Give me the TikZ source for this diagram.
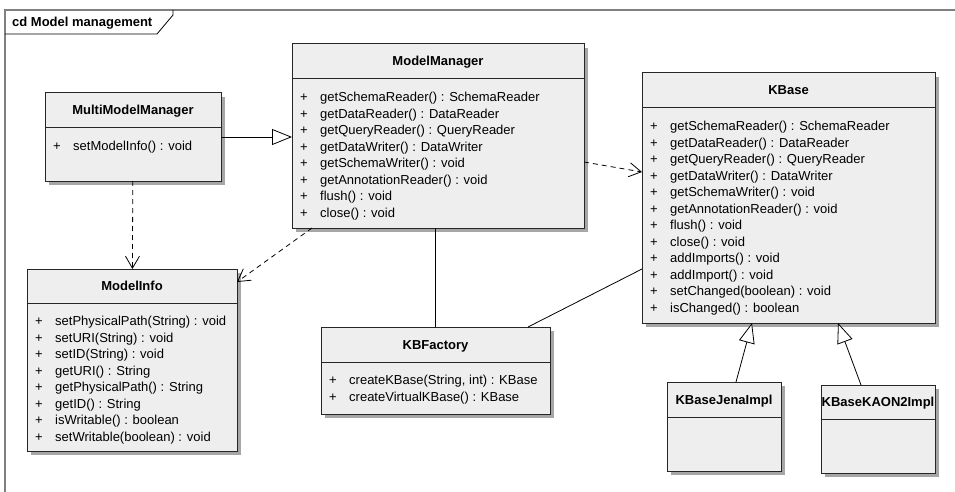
\documentclass[tikz,border=0pt]{standalone}
\usepackage{fontspec}
\setmainfont{Liberation Sans}
\usetikzlibrary{arrows.meta,positioning,shadows,calc}
\definecolor{clsfill}{HTML}{EEEEEE}
\definecolor{framecol}{HTML}{808080}
\newcommand\op[1]{\makebox[20pt][l]{+}#1\strut}

\begin{document}
\begin{tikzpicture}[x=1pt, y=-1pt,
        cls/.style={draw=black!85, fill=clsfill, line width=1pt, anchor=north west,
          inner sep=0pt, outer sep=0pt,
          drop shadow={shadow xshift=4pt, shadow yshift=-4pt, fill=black!35, opacity=1}},
        clsname/.style={anchor=base, font=\fontsize{13}{16}\selectfont\bfseries},
        ops/.style={anchor=north west, inner sep=0pt, align=left,
          font=\fontsize{13}{16.5}\selectfont},
        sep/.style={draw=black!85, line width=1pt},
        gen/.style={line width=0.8pt, -{Triangle[fill=white, length=20pt, width=16pt]}},
        dep/.style={line width=0.8pt, dash pattern=on 5pt off 4pt,
          -{Straight Barb[length=12pt, width=14pt]}},
        assoc/.style={line width=0.8pt}
        ]
        \useasboundingbox (0,0) rectangle (955,492);
        % frame
        \draw[framecol, line width=1.2pt] (5,492) -- (5,10) -- (955,10);
        \draw[line width=0.8pt] (5,34) -- (157,34) -- (173,15) -- (173,10);
        \node[anchor=base west, inner sep=0pt, font=\fontsize{13}{15}\selectfont\bfseries] (title)
          at (12,26.5) {cd Model management};

        % classes
        \node[cls, minimum width=176pt, minimum height=88pt] (mmm) at (45,93) {};
        \draw[sep] ([yshift=-35pt]mmm.north west) -- ([yshift=-35pt]mmm.north east);
        \node[clsname] (mmm-name) at ([yshift=-22pt]mmm.north) {MultiModelManager};
        \node[ops] (mmm-ops) at ([xshift=8pt, yshift=-46pt]mmm.north west) {%
          \op{setModelInfo() : void}};

        \node[cls, minimum width=292pt, minimum height=184pt] (mm) at (292,44) {};
        \draw[sep] ([yshift=-35pt]mm.north west) -- ([yshift=-35pt]mm.north east);
        \node[clsname] (mm-name) at ([yshift=-22pt]mm.north) {ModelManager};
        \node[ops] (mm-ops) at ([xshift=8pt, yshift=-46pt]mm.north west) {%
          \op{getSchemaReader() : SchemaReader}\\
          \op{getDataReader() : DataReader}\\
          \op{getQueryReader() : QueryReader}\\
          \op{getDataWriter() : DataWriter}\\
          \op{getSchemaWriter() : void}\\
          \op{getAnnotationReader() : void}\\
          \op{flush() : void}\\
          \op{close() : void}};

        \node[cls, minimum width=293pt, minimum height=250pt] (kbase) at (642,73) {};
        \draw[sep] ([yshift=-35pt]kbase.north west) -- ([yshift=-35pt]kbase.north east);
        \node[clsname] (kbase-name) at ([yshift=-22pt]kbase.north) {KBase};
        \node[ops] (kbase-ops) at ([xshift=8pt, yshift=-46pt]kbase.north west) {%
          \op{getSchemaReader() : SchemaReader}\\
          \op{getDataReader() : DataReader}\\
          \op{getQueryReader() : QueryReader}\\
          \op{getDataWriter() : DataWriter}\\
          \op{getSchemaWriter() : void}\\
          \op{getAnnotationReader() : void}\\
          \op{flush() : void}\\
          \op{close() : void}\\
          \op{addImports() : void}\\
          \op{addImport() : void}\\
          \op{setChanged(boolean) : void}\\
          \op{isChanged() : boolean}};

        \node[cls, minimum width=210pt, minimum height=182pt] (minfo) at (27,269) {};
        \draw[sep] ([yshift=-34pt]minfo.north west) -- ([yshift=-34pt]minfo.north east);
        \node[clsname] (minfo-name) at ([yshift=-21.5pt]minfo.north) {ModelInfo};
        \node[ops] (minfo-ops) at ([xshift=8pt, yshift=-45pt]minfo.north west) {%
          \op{setPhysicalPath(String) : void}\\
          \op{setURI(String) : void}\\
          \op{setID(String) : void}\\
          \op{getURI() : String}\\
          \op{getPhysicalPath() : String}\\
          \op{getID() : String}\\
          \op{isWritable() : boolean}\\
          \op{setWritable(boolean) : void}};

        \node[cls, minimum width=229pt, minimum height=87pt] (kbf) at (321,327) {};
        \draw[sep] ([yshift=-35pt]kbf.north west) -- ([yshift=-35pt]kbf.north east);
        \node[clsname] (kbf-name) at ([yshift=-22pt]kbf.north) {KBFactory};
        \node[ops] (kbf-ops) at ([xshift=8pt, yshift=-46pt]kbf.north west) {%
          \op{createKBase(String, int) : KBase}\\
          \op{createVirtualKBase() : KBase}};

        \node[cls, minimum width=114pt, minimum height=89pt] (jena) at (667,382) {};
        \draw[sep] ([yshift=-35pt]jena.north west) -- ([yshift=-35pt]jena.north east);
        \node[clsname] (jena-name) at ([yshift=-22pt]jena.north) {KBaseJenaImpl};

        \node[cls, minimum width=114pt, minimum height=88pt] (kaon) at (821,385) {};
        \draw[sep] ([yshift=-34pt]kaon.north west) -- ([yshift=-34pt]kaon.north east);
        \node[clsname] (kaon-name) at ([yshift=-21.5pt]kaon.north) {KBaseKAON2Impl};

        % relations
        \draw[gen] (mmm.east) -- (mmm.east -| mm.west);
        \draw[dep] (mmm) -- (minfo);
        \draw[dep] ([xshift=20pt]mm.south west) -- ([yshift=-13pt]minfo.north east);
        \draw[dep] ([yshift=-118pt]mm.north east) -- ([yshift=-99pt]kbase.north west);
        \draw[assoc] (kbf.north) -- (kbf.north |- mm.south);
        \draw[assoc] ([xshift=-22pt]kbf.north east) -- ([yshift=-196pt]kbase.north west);
        \draw[gen] ([xshift=12pt]jena.north) -- ([xshift=110pt]kbase.south west);
        \draw[gen] ([xshift=-17pt]kaon.north) -- ([xshift=196pt]kbase.south west);
      \end{tikzpicture}
\end{document}
